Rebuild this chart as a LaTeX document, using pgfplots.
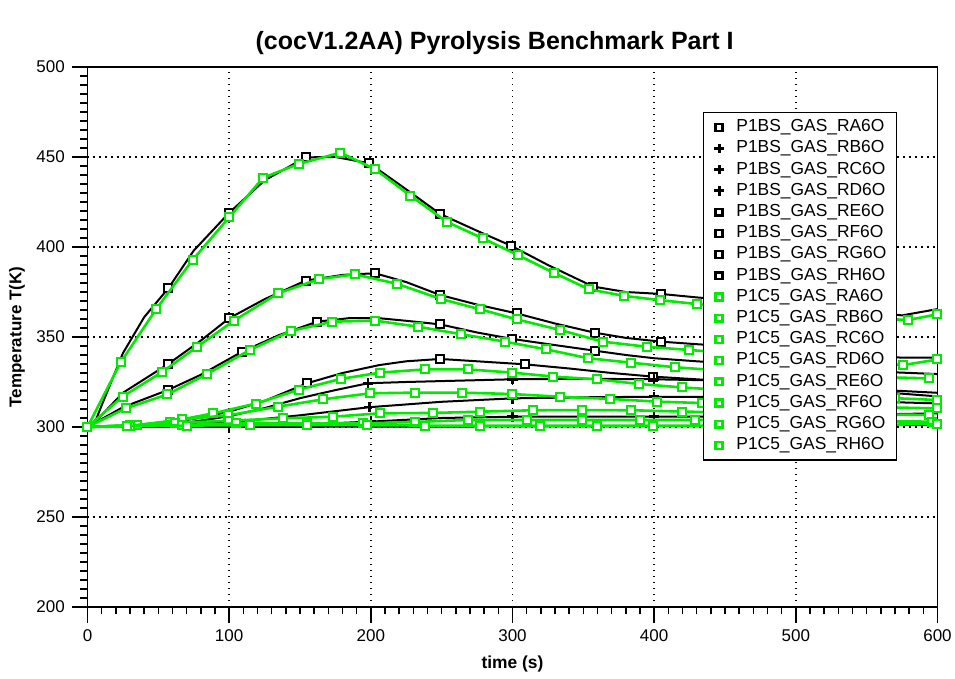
\documentclass[border=0pt]{standalone}
\usepackage{fontspec}
\setmainfont{Liberation Sans}
\usepackage{pgfplots}
\pgfplotsset{compat=1.18}
\definecolor{lgreen}{RGB}{0,235,0}
\begin{document}
\begin{tikzpicture}
\useasboundingbox (-43.75pt,-36pt) rectangle (433.75pt,303.5pt);
\begin{axis}[
  scale only axis, width=425pt, height=270pt,
  xmin=0, xmax=600, ymin=200, ymax=500,
  xtick={0,100,...,600}, ytick={200,250,...,500},
  minor x tick num=9, minor y tick num=9,
  tick align=outside, xtick pos=left, ytick pos=left,
  major tick length=7.8pt, minor tick length=3.7pt,
  grid=major,
  major grid style={black, line width=0.7pt, dash pattern=on 0.7pt off 2.3pt},
  axis line style={line width=0.8pt},
  every tick/.style={black, line width=0.8pt},
  ticklabel style={font=\fontsize{8.5}{10}\selectfont},
  /pgf/number format/assume math mode=true,
  title={(cocV1.2AA) Pyrolysis Benchmark Part I},
  every axis title shift=0pt,
  title style={font=\bfseries\fontsize{12.5}{14}\selectfont, at={(axis description cs:0.479,1.033)}, anchor=base, yshift=0pt},
  xlabel={time (s)},
  xlabel style={font=\bfseries\fontsize{8.7}{10}\selectfont, at={(axis description cs:0.5,-0.113)}, anchor=base},
  ylabel={Temperature T(K)},
  ylabel style={font=\bfseries\fontsize{8.5}{10}\selectfont, at={(axis description cs:-0.0829,0.5)}, anchor=center},
  clip mode=individual,
  legend image code/.code={\path[draw=none,fill=none] (0pt,0pt) -- (8.4pt,0pt); \path[#1,draw=none] plot coordinates {(4.2pt,0pt)};},
  legend cell align=left,
  legend style={at={(axis description cs:0.724,0.9167)}, anchor=north west, draw=black, line width=0.75pt, fill=white,
    inner xsep=3.5pt, inner ysep=2pt, font=\fontsize{8.7}{10}\selectfont, column sep=3pt,
    nodes={inner xsep=1.5pt, inner ysep=1.3pt, text height=6.2pt, text depth=1.8pt}},
]
% ---------------- black (P1BS) lines ----------------
\addplot[black, line width=1pt, forget plot] coordinates {(0,300) (5,302) (10,312) (25,341) (40,361) (57,377) (75,398) (100,419) (125,437) (154,449.8) (175,450) (199,446.5) (225,432) (249,418.3) (275,409) (299,400.7) (325,390) (357,378) (380,375) (405,373.9) (430,372) (460,370) (500,367.5) (540,365) (575,362) (600,365.5)};
\addplot[black, line width=1pt, forget plot] coordinates {(0,300) (8,305) (25,319) (57,335) (80,348) (100,360.4) (125,371) (154,381.3) (180,384.5) (203,385.4) (225,380.5) (249,373.3) (275,368) (303,363.1) (330,357.5) (358,352.4) (380,349.5) (405,347.4) (430,346) (460,344.5) (500,342.5) (540,340.5) (575,338.5) (600,338.5)};
\addplot[black, line width=1pt, forget plot] coordinates {(0,300) (8,303.5) (25,311) (57,320.6) (80,329) (109,341.8) (135,351) (162,358.5) (185,360.5) (205,360.5) (225,359) (249,357) (275,352.5) (300,348.9) (330,345.5) (358,342.4) (380,340) (400,338.2) (430,336.5) (460,335) (500,333) (550,331) (600,329.4)};
\addplot[black, line width=1pt, forget plot] coordinates {(0,300) (25,300.5) (50,302) (75,304.5) (100,308.5) (125,314.5) (155,324.3) (180,330) (206,334.4) (225,336.5) (249,337.8) (275,336.5) (309,334.8) (340,332.5) (370,330) (399,328) (434,326.3) (470,324.5) (500,323.3) (550,321) (600,319)};
\addplot[black, line width=1pt, forget plot] coordinates {(0,300) (25,300.3) (50,301) (75,303) (100,306) (125,310.5) (150,316) (175,320.5) (198,324.3) (225,325) (250,325.5) (300,326.5) (350,326.8) (400,326.5) (434,326) (470,324.5) (500,323) (550,320) (600,317)};
\addplot[black, line width=1pt, forget plot] coordinates {(0,300) (50,300.5) (100,302.5) (150,306.5) (199,311) (250,314) (300,315.9) (350,316.5) (400,316.8) (434,316.8) (500,315.5) (550,314.2) (600,313.1)};
\addplot[black, line width=1pt, forget plot] coordinates {(0,300) (100,300.3) (150,301.3) (200,303) (250,305) (300,305.7) (400,305.7) (434,305.7) (500,306.3) (550,306.9) (600,307.6)};
\addplot[black, line width=1pt, forget plot] coordinates {(0,300) (100,300) (200,300.2) (300,300.3) (434,300.5) (600,301.2)};
% black markers
\addplot[only marks, mark=square*, mark size=2pt, mark options={draw=black, fill=white, line width=1pt}, forget plot] coordinates {(57,377) (100,419) (154,449.8) (199,446.5) (249,418.3) (299,400.7) (357,378) (405,373.9)
 (57,335) (100,360.4) (154,381.3) (203,385.4) (249,373.3) (303,363.1) (358,352.4) (405,347.4)
 (57,320.6) (109,341.8) (162,358.5) (249,357) (300,348.9) (358,342.4)
 (155,324.3) (249,337.8) (309,334.8) (399,328)};
\addplot[only marks, mark=+, mark size=2.6pt, mark options={draw=black, line width=1.3pt}, forget plot] coordinates {(100,306) (198,324.3) (300,326.5) (400,326.5)
 (100,302.5) (199,311) (300,315.9) (400,316.8)
 (100,300.3) (200,303) (300,305.7) (400,305.7)};
% ---------------- green (P1C5) lines ----------------
\pgfplotsset{gstyle/.style={lgreen, line width=1.3pt, mark=square*, mark size=2pt, mark options={draw=lgreen, fill=white, line width=1pt}, forget plot}}
\addplot[gstyle] coordinates {(0,300) (23.4,335.9) (48.4,365.4) (74.2,392.8) (100,416.5) (124,438.5) (149,446.1) (178.5,452.4) (203,443.2) (228,428.5) (253.5,414) (279,404.8) (303.6,395.6) (329,385.7) (354,376.5) (379,372.8) (404,370.5) (430,368.3) (455,366.5) (480,365) (505,363.5) (530,362) (555,360.5) (579,359.4) (600,362.6)};
\addplot[gstyle] coordinates {(0,300) (24.8,316.9) (52.4,330.4) (77,344.3) (103.4,359.1) (134.7,374.3) (163.6,382.2) (188.8,384.8) (218.2,379.6) (249.5,371.1) (277,365.4) (303,359.8) (333.5,353.9) (363.6,347.4) (394.6,344.6) (424.5,342.8) (455,341) (485,339.5) (515,338) (545,336.5) (575.7,334.4) (600,337.5)};
\addplot[gstyle] coordinates {(0,300) (27.2,310.4) (56.4,318.1) (84.1,329.3) (114.7,342.8) (143.4,353.3) (172.8,358.5) (203,359.1) (233.5,355.7) (264,351.5) (294.6,347.4) (324,343.1) (353.4,338.2) (384,335.7) (414.6,333.2) (445,331.5) (475,330.3) (505,329.3) (535,328.4) (565,327.6) (594,327)};
\addplot[gstyle] coordinates {(0,300) (30,300.8) (58,302.9) (88.8,307.6) (118.9,313) (149.5,320.8) (178.7,326.7) (206.4,330.2) (238.2,332) (268.7,332) (300,330.2) (328.7,328) (359.3,326.5) (389.4,323.9) (419.3,322) (450,320.5) (480,319.3) (510,318.2) (540,317) (570,316) (599.7,315)};
\addplot[gstyle] coordinates {(0,300) (35,301) (66.4,304.2) (99.4,306.5) (134.7,311.3) (166.4,315.4) (199.4,318.7) (231.1,319.1) (264.1,319.1) (300,318.3) (333.5,316.8) (368.7,315.6) (401.7,314.1) (434,313.3) (467,312.6) (500,312) (533,311.4) (566,310.9) (600,310.3)};
\addplot[gstyle] coordinates {(0,300) (30,301) (62,302.3) (100,303.5) (138.2,304.8) (173,305.7) (206.4,307.6) (244,307.8) (277,308.5) (314.6,309.3) (348.8,309.4) (384,309.3) (419.3,308.6) (453,308) (487,307.6) (521,307.3) (555,307) (594,306.7)};
\addplot[gstyle] coordinates {(0,300) (30,300.3) (66.5,301.1) (104.8,302) (154.7,302) (194.6,302) (231,302.8) (268.7,303.9) (310,303.9) (348.8,303.9) (390,303.9) (428.7,303.9) (462,303.7) (496,303.5) (530,303.3) (563,303.1) (596,303)};
\addplot[gstyle] coordinates {(0,300) (27.6,300.8) (70,300.8) (114.7,301) (154.6,301) (197,301) (238,300.8) (277,300.8) (319.3,300.8) (359.3,300.8) (399.3,300.8) (440,300.8) (480,300.9) (520,301) (560,301.2) (600,301.7)};
% ---------------- legend ----------------
\addlegendimage{black, mark=square*, mark size=1.7pt, mark options={draw=black, fill=white, line width=1.2pt}}
\addlegendentry{P1BS\_GAS\_RA6O}
\addlegendimage{black, mark=+, mark size=2.3pt, mark options={draw=black, line width=1.5pt}}
\addlegendentry{P1BS\_GAS\_RB6O}
\addlegendimage{black, mark=+, mark size=2.3pt, mark options={draw=black, line width=1.5pt}}
\addlegendentry{P1BS\_GAS\_RC6O}
\addlegendimage{black, mark=+, mark size=2.3pt, mark options={draw=black, line width=1.5pt}}
\addlegendentry{P1BS\_GAS\_RD6O}
\addlegendimage{black, mark=square*, mark size=1.7pt, mark options={draw=black, fill=white, line width=1.2pt}}
\addlegendentry{P1BS\_GAS\_RE6O}
\addlegendimage{black, mark=square*, mark size=1.7pt, mark options={draw=black, fill=white, line width=1.2pt}}
\addlegendentry{P1BS\_GAS\_RF6O}
\addlegendimage{black, mark=square*, mark size=1.7pt, mark options={draw=black, fill=white, line width=1.2pt}}
\addlegendentry{P1BS\_GAS\_RG6O}
\addlegendimage{black, mark=square*, mark size=1.7pt, mark options={draw=black, fill=white, line width=1.2pt}}
\addlegendentry{P1BS\_GAS\_RH6O}
\addlegendimage{lgreen, mark=square*, mark size=1.7pt, mark options={draw=lgreen, fill=white, line width=1.2pt}}
\addlegendentry{P1C5\_GAS\_RA6O}
\addlegendimage{lgreen, mark=square*, mark size=1.7pt, mark options={draw=lgreen, fill=white, line width=1.2pt}}
\addlegendentry{P1C5\_GAS\_RB6O}
\addlegendimage{lgreen, mark=square*, mark size=1.7pt, mark options={draw=lgreen, fill=white, line width=1.2pt}}
\addlegendentry{P1C5\_GAS\_RC6O}
\addlegendimage{lgreen, mark=square*, mark size=1.7pt, mark options={draw=lgreen, fill=white, line width=1.2pt}}
\addlegendentry{P1C5\_GAS\_RD6O}
\addlegendimage{lgreen, mark=square*, mark size=1.7pt, mark options={draw=lgreen, fill=white, line width=1.2pt}}
\addlegendentry{P1C5\_GAS\_RE6O}
\addlegendimage{lgreen, mark=square*, mark size=1.7pt, mark options={draw=lgreen, fill=white, line width=1.2pt}}
\addlegendentry{P1C5\_GAS\_RF6O}
\addlegendimage{lgreen, mark=square*, mark size=1.7pt, mark options={draw=lgreen, fill=white, line width=1.2pt}}
\addlegendentry{P1C5\_GAS\_RG6O}
\addlegendimage{lgreen, mark=square*, mark size=1.7pt, mark options={draw=lgreen, fill=white, line width=1.2pt}}
\addlegendentry{P1C5\_GAS\_RH6O}
\end{axis}
\end{tikzpicture}
\end{document}
